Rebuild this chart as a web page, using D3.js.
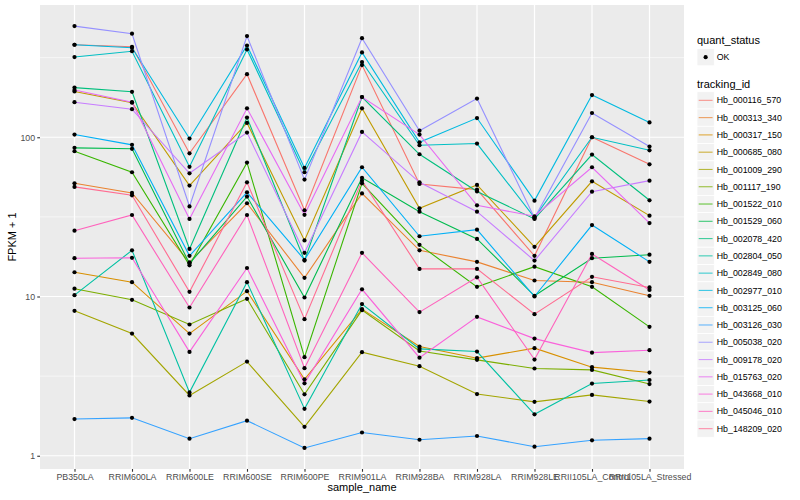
<!DOCTYPE html>
<html><head><meta charset="utf-8">
<script src="https://cdn.jsdelivr.net/npm/d3@7"></script>
<style>
body{margin:0;background:#fff;}
text{font-family:"Liberation Sans",Arial,Helvetica,sans-serif;}
</style>
</head><body>
<svg id="chart" width="800" height="500"></svg>
<script>
// ---------- data ----------
const samples = ["PB350LA","RRIM600LA","RRIM600LE","RRIM600SE","RRIM600PE","RRIM901LA","RRIM928BA","RRIM928LA","RRIM928LE","RRII105LA_Control","RRII105LA_Stressed"];
const trackingIds = ["Hb_000116_570","Hb_000313_340","Hb_000317_150","Hb_000685_080","Hb_001009_290","Hb_001117_190","Hb_001522_010","Hb_001529_060","Hb_002078_420","Hb_002804_050","Hb_002849_080","Hb_002977_010","Hb_003125_060","Hb_003126_030","Hb_005038_020","Hb_009178_020","Hb_015763_020","Hb_043668_010","Hb_045046_010","Hb_148209_020"];
const seriesColors = ["#F8766D","#EA8331","#D89000","#C09B00","#A3A500","#7CAE00","#39B600","#00BB4E","#00BF7D","#00C1A3","#00BFC4","#00BAE0","#00B0F6","#35A2FF","#9590FF","#C77CFF","#E76BF3","#FA62DB","#FF62BC","#FF6C91"];
// FPKM + 1 per sample (order of samples)
const hb_000116_570 = [381, 370, 79.3, 249, 34.8, 284, 50.9, 46.9, 18.0, 100, 67.6];
const hb_000313_340 = [51.4, 44.7, 16.4, 38.5, 13.1, 44.4, 19.5, 16.5, 12.6, 12.3, 10.1];
const hb_000317_150 = [14.2, 12.3, 5.85, 10.8, 3.02, 8.33, 4.85, 4.10, 4.74, 3.60, 3.33];
const hb_000685_080 = [194, 165, 49.7, 123, 22.5, 152, 35.8, 50.2, 20.5, 52.9, 32.2];
const hb_001009_290 = [8.13, 5.85, 2.39, 3.90, 1.52, 4.47, 3.65, 2.44, 2.18, 2.41, 2.19];
const hb_001117_190 = [11.2, 9.53, 6.67, 9.67, 2.43, 8.21, 4.55, 4.00, 3.53, 3.46, 2.82];
const hb_001522_010 = [81.7, 60.3, 15.7, 69.3, 4.16, 51.4, 21.1, 11.5, 15.4, 11.5, 6.45];
const hb_001529_060 = [85.8, 84.6, 16.1, 42.4, 9.86, 55.6, 34.1, 23.0, 10.1, 17.4, 18.3];
const hb_002078_420 = [205, 193, 19.9, 133, 16.8, 179, 78.2, 45.7, 30.7, 77.8, 40.2];
const hb_002804_050 = [10.2, 19.5, 2.50, 12.3, 1.97, 8.96, 4.69, 4.51, 1.82, 2.84, 2.99];
const hb_002849_080 = [319, 347, 65.2, 356, 60.3, 297, 89.1, 91.3, 31.3, 100, 82.8];
const hb_002977_010 = [381, 365, 98.1, 377, 64.2, 341, 93.0, 132, 40.0, 184, 124];
const hb_003125_060 = [104, 89.6, 18.0, 45.1, 17.0, 64.8, 23.9, 26.3, 10.0, 28.1, 16.5];
const hb_003126_030 = [1.70, 1.73, 1.28, 1.66, 1.12, 1.40, 1.26, 1.33, 1.14, 1.25, 1.28];
const hb_005038_020 = [499, 447, 36.8, 432, 54.2, 419, 110, 175, 31.1, 142, 87.4];
const hb_009178_020 = [166, 150, 59.4, 107, 18.8, 108, 52.1, 34.1, 16.8, 45.5, 53.4];
const hb_015763_020 = [198, 166, 30.7, 152, 32.6, 179, 104, 37.4, 31.9, 64.8, 28.9];
const hb_043668_010 = [17.4, 17.5, 4.49, 15.1, 2.85, 11.1, 4.13, 7.45, 5.44, 4.44, 4.60];
const hb_045046_010 = [25.9, 32.5, 8.53, 32.5, 3.55, 18.8, 7.98, 13.2, 4.02, 18.5, 11.0];
const hb_148209_020 = [48.8, 43.2, 10.7, 52.1, 7.21, 53.4, 14.9, 14.9, 7.75, 13.3, 11.4];
const yTicks = [1, 10, 100];
const yMinor = [Math.sqrt(10), 10*Math.sqrt(10), 100*Math.sqrt(10)];
const quantStatus = ["OK"];

const seriesValues = [hb_000116_570,hb_000313_340,hb_000317_150,hb_000685_080,hb_001009_290,hb_001117_190,hb_001522_010,hb_001529_060,hb_002078_420,hb_002804_050,hb_002849_080,hb_002977_010,hb_003125_060,hb_003126_030,hb_005038_020,hb_009178_020,hb_015763_020,hb_043668_010,hb_045046_010,hb_148209_020];
const series = trackingIds.map((id,i)=>({id, color:seriesColors[i], values:seriesValues[i]}));

// ---------- layout ----------
const svg = d3.select("#chart");
const px0=40, px1=684, py0=5, py1=469;
const x = d3.scalePoint().domain(samples).range([px0,px1]).padding(0.6);
const allVals = seriesValues.flat();
const lo = Math.log10(d3.min(allVals)), hi = Math.log10(d3.max(allVals)), pad=(hi-lo)*0.05;
const y = d3.scaleLog().domain([10**(lo-pad), 10**(hi+pad)]).range([py1,py0]);

svg.append("rect").attr("width",800).attr("height",500).attr("fill","#fff");
svg.append("rect").attr("x",px0).attr("y",py0).attr("width",px1-px0).attr("height",py1-py0).attr("fill","#EBEBEB");

const grid = svg.append("g");
grid.selectAll(".mn").data(yMinor).join("line")
  .attr("x1",px0).attr("x2",px1).attr("y1",d=>y(d)).attr("y2",d=>y(d))
  .attr("stroke","#fff").attr("stroke-width",0.6);
grid.selectAll(".mj").data(yTicks).join("line")
  .attr("x1",px0).attr("x2",px1).attr("y1",d=>y(d)).attr("y2",d=>y(d))
  .attr("stroke","#fff").attr("stroke-width",1.2);
grid.selectAll(".vx").data(samples).join("line")
  .attr("x1",d=>x(d)).attr("x2",d=>x(d)).attr("y1",py0).attr("y2",py1)
  .attr("stroke","#fff").attr("stroke-width",1.2);

// lines
const line = d3.line().x((d,i)=>x(samples[i])).y(d=>y(d));
svg.append("g").selectAll("path").data(series).join("path")
  .attr("d",d=>line(d.values)).attr("fill","none")
  .attr("stroke",d=>d.color).attr("stroke-width",1.1);

// points
const pts = [];
series.forEach(s=>s.values.forEach((v,i)=>pts.push({s:samples[i],v})));
svg.append("g").selectAll("circle").data(pts).join("circle")
  .attr("cx",d=>x(d.s)).attr("cy",d=>y(d.v)).attr("r",2.1).attr("fill","#000");

// axes
const yAxis = svg.append("g").attr("transform",`translate(${px0},0)`)
  .call(d3.axisLeft(y).tickValues(yTicks).tickFormat(d3.format("d")).tickSize(2.75).tickPadding(2.2));
const xAxis = svg.append("g").attr("transform",`translate(0,${py1})`)
  .call(d3.axisBottom(x).tickSize(2.75).tickPadding(2.2));
[yAxis,xAxis].forEach(a=>{
  a.select(".domain").remove();
  a.selectAll(".tick line").attr("stroke","#333333").attr("stroke-width",1.1);
  a.selectAll(".tick text").attr("fill","#4D4D4D").style("font-size","8.8px")
   .style("font-family",'"Liberation Sans",Arial,sans-serif');
});

// axis titles
svg.append("text").attr("x",(px0+px1)/2).attr("y",491).attr("text-anchor","middle")
  .style("font-size","11px").attr("fill","#000").text("sample_name");
svg.append("text").attr("transform",`translate(16,${(py0+py1)/2}) rotate(-90)`)
  .attr("text-anchor","middle").style("font-size","11px").attr("fill","#000").text("FPKM + 1");

// legends
const lx = 697, keyW = 17.28, keyH = 17.28;
const lg = svg.append("g");
lg.append("text").attr("x",lx).attr("y",44).style("font-size","11px").text("quant_status");
const q = lg.selectAll(".q").data(quantStatus).join("g")
  .attr("transform",(d,i)=>`translate(${lx},${48.5+i*keyH})`);
q.append("rect").attr("width",keyW).attr("height",keyH).attr("fill","#F2F2F2").attr("stroke","#fff").attr("stroke-width",0.8);
q.append("circle").attr("cx",keyW/2).attr("cy",keyH/2).attr("r",2.1).attr("fill","#000");
q.append("text").attr("x",keyW+2.5).attr("y",keyH/2+3.1).style("font-size","8.8px").text(d=>d);

lg.append("text").attr("x",lx).attr("y",87.5).style("font-size","11px").text("tracking_id");
const t = lg.selectAll(".t").data(series).join("g")
  .attr("transform",(d,i)=>`translate(${lx},${91.7+i*keyH})`);
t.append("rect").attr("width",keyW).attr("height",keyH).attr("fill","#F2F2F2").attr("stroke","#fff").attr("stroke-width",0.8);
t.append("line").attr("x1",1.7).attr("x2",keyW-1.7).attr("y1",keyH/2).attr("y2",keyH/2)
  .attr("stroke",d=>d.color).attr("stroke-width",1.1).attr("stroke-opacity",0.75);
t.append("text").attr("x",keyW+2.5).attr("y",keyH/2+3.1).style("font-size","8.8px").text(d=>d.id);
</script>
</body></html>
